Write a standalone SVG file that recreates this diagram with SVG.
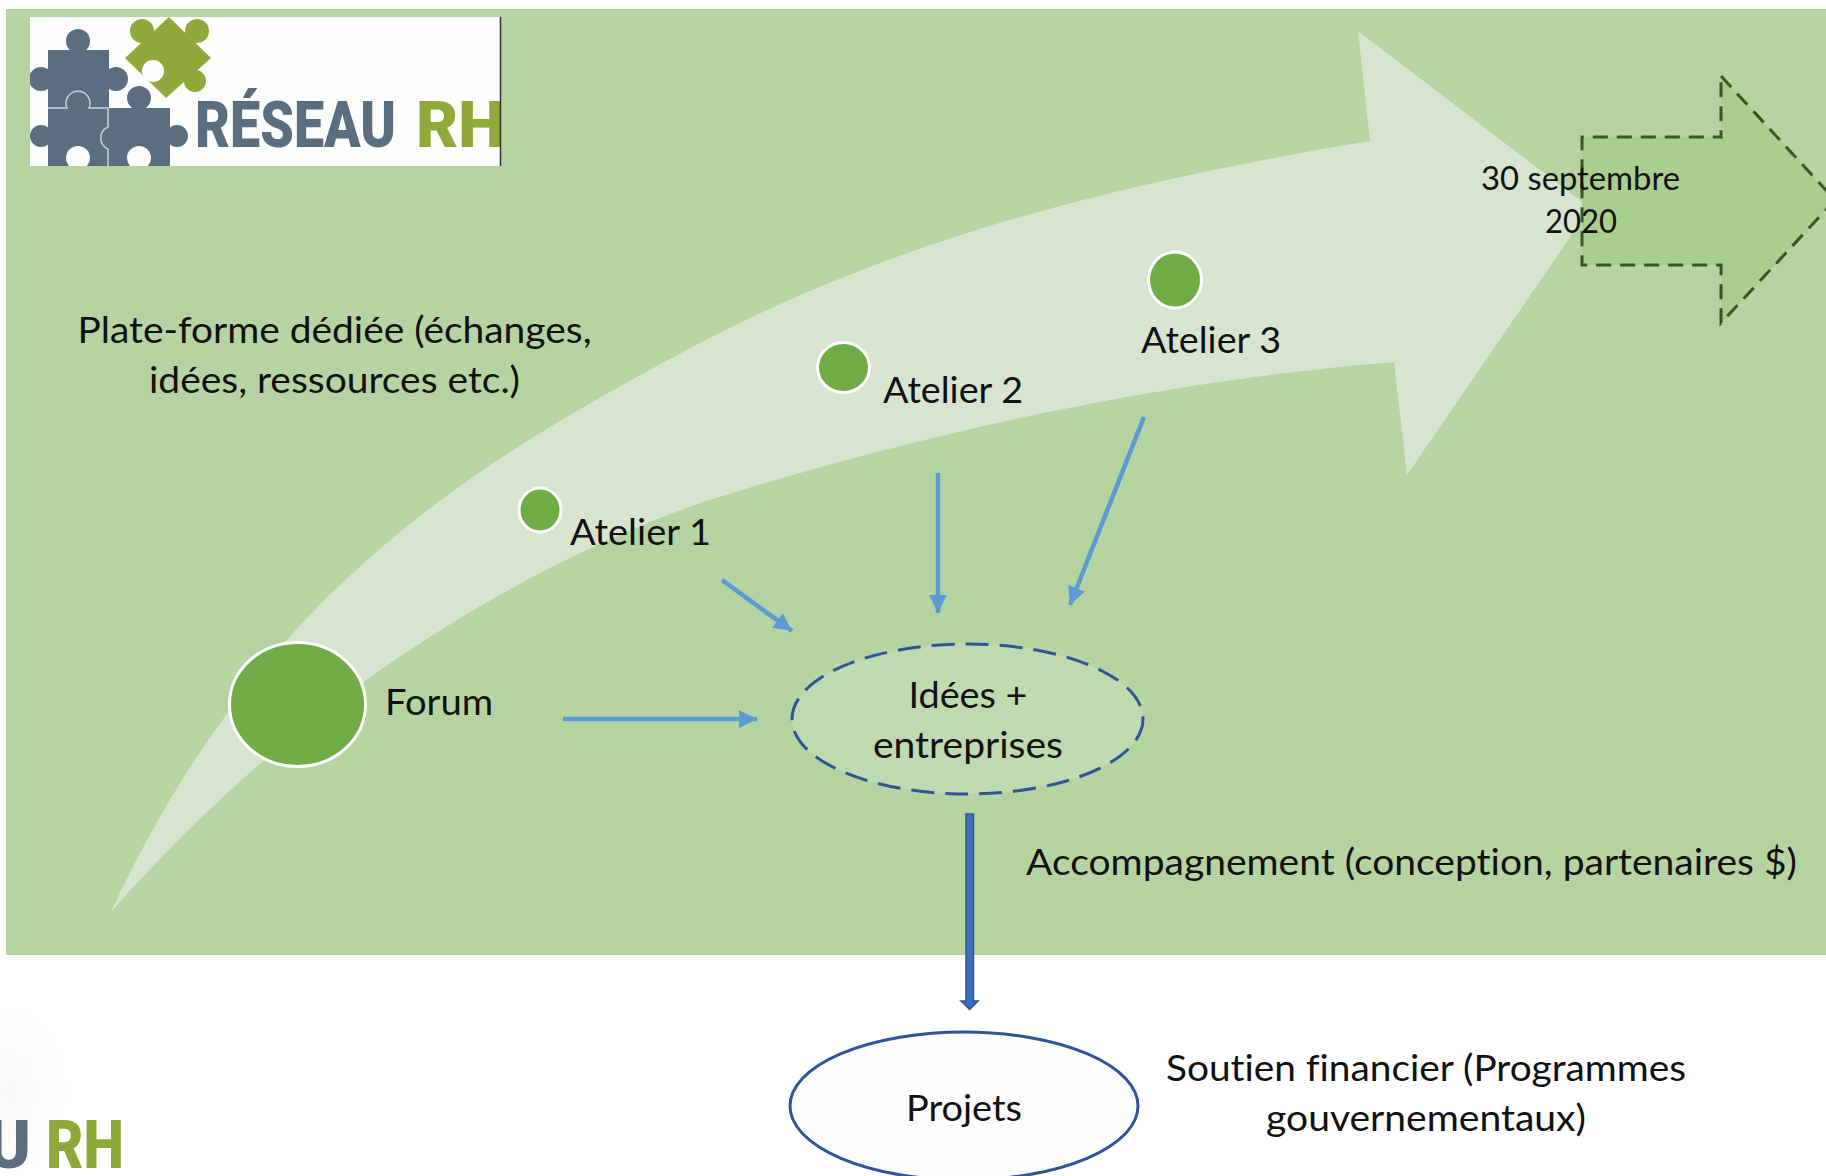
<svg xmlns="http://www.w3.org/2000/svg" width="1826" height="1176" viewBox="0 0 1826 1176">
<style>
text{font-family:"Lato","Carlito","Open Sans",sans-serif;fill:#111;font-size:37.5px;font-variant-ligatures:none}
.mid{text-anchor:middle}
.date{font-size:33px}
.logo{font-family:"Roboto","Liberation Sans",sans-serif;font-weight:900;font-size:64px}
.slate{fill:#5B6E7F}
.olive{fill:#93A83B}
.dot{fill:#70AD47;stroke:#fff;stroke-width:3}
.flow{fill:none;stroke:#5B9BD5;stroke-width:4.5;marker-end:url(#ah)}
</style>
<defs>
<marker id="ah" markerUnits="userSpaceOnUse" markerWidth="20" markerHeight="18" refX="18" refY="9" orient="auto"><path d="M0,0L18,9L0,18Z" fill="#5B9BD5"/></marker>
<clipPath id="logoclip"><rect x="30" y="17" width="471" height="149"/></clipPath>
<radialGradient id="smudge"><stop offset="0" stop-color="#FAF8F6"/><stop offset="1" stop-color="#FFFFFF" stop-opacity="0"/></radialGradient>
</defs>
<rect width="1826" height="1176" fill="#FFFFFF"/>
<ellipse cx="10" cy="1090" rx="90" ry="130" fill="url(#smudge)"/>
<rect x="6" y="9" width="1820" height="946" fill="#B6D4A2"/>

<g id="big-arrow">
<path fill="#D7E4CF" d="M111,912 C260,590 475,462 700,343 C920,228 1150,178 1370,141 L1358,31 L1590,208 L1407,475 L1394,362 C1170,380 930,430 700,503 C500,575 290,708 111,912Z"/>
</g>

<g id="logo">
<rect x="30" y="17" width="471" height="149" fill="#FDFDFE"/>
<g clip-path="url(#logoclip)">
<g class="slate">
<rect x="48" y="50" width="61" height="58"/>
<circle cx="78" cy="41" r="12"/><rect x="72" y="46" width="12" height="8"/>
<circle cx="41" cy="79" r="12"/><circle cx="116" cy="79" r="12"/>
<rect x="48" y="108" width="61" height="58"/>
<circle cx="41" cy="136" r="11"/>
<rect x="109" y="108" width="61" height="58"/>
<circle cx="139" cy="98" r="12"/><circle cx="177" cy="136" r="11"/>
<circle cx="78" cy="100" r="12"/><circle cx="100" cy="137" r="12"/>
</g>
<path d="M48,108H67A12,12 0 1 1 89,108H108V127A12,12 0 0 0 108,149V166" fill="none" stroke="#C8D0D6" stroke-width="1.5"/>
<circle cx="78" cy="158" r="12" fill="#FDFDFE"/><circle cx="139" cy="158" r="12" fill="#FDFDFE"/>
<g class="olive">
<path d="M169,17L211,58L166,98L125,58Z"/>
<circle cx="142" cy="31" r="12"/><circle cx="197" cy="31" r="12"/><circle cx="195" cy="81" r="11"/>
</g>
<circle cx="153" cy="71" r="11" fill="#FDFDFE"/>
<text class="logo" x="195" y="147" textLength="201" lengthAdjust="spacingAndGlyphs" style="fill:#5B6E7F">RÉSEAU</text>
<text class="logo" x="416" y="147" textLength="88" lengthAdjust="spacingAndGlyphs" style="fill:#93A83B">RH</text>
</g>
<line x1="500.500" y1="17" x2="500.500" y2="166" stroke="#333" stroke-width="1.500"/>
</g>

<g id="logo-bottom">
<text class="logo" x="31" y="1168" text-anchor="end" style="font-size:67px;fill:#5B6E7F">U</text>
<text class="logo" x="46" y="1168" textLength="78" lengthAdjust="spacingAndGlyphs" style="font-size:67px;fill:#8FA83A">RH</text>
</g>

<g id="date-arrow">
<path d="M1721,76L1835,200L1721,323V265H1582V137H1721Z" fill="#A9CE8E" stroke="#385723" stroke-width="3" stroke-dasharray="15 9"/>
<text class="date mid" x="1580.500" y="190" textLength="199" lengthAdjust="spacingAndGlyphs">30 septembre</text>
<text class="date mid" x="1581" y="233" textLength="72" lengthAdjust="spacingAndGlyphs">2020</text>
</g>

<g id="plateforme">
<text class="mid" x="334.500" y="343" textLength="514" lengthAdjust="spacingAndGlyphs">Plate-forme dédiée (échanges,</text>
<text class="mid" x="334.500" y="393" textLength="371" lengthAdjust="spacingAndGlyphs">idées, ressources etc.)</text>
</g>

<g id="forum">
<ellipse class="dot" cx="297.500" cy="704.500" rx="68" ry="62"/>
<text x="385" y="715" textLength="108" lengthAdjust="spacingAndGlyphs">Forum</text>
</g>
<g id="atelier-1">
<ellipse class="dot" cx="540" cy="510" rx="21" ry="22"/>
<text x="570" y="545" textLength="141" lengthAdjust="spacingAndGlyphs">Atelier 1</text>
</g>
<g id="atelier-2">
<ellipse class="dot" cx="843.500" cy="367.500" rx="26" ry="25"/>
<text x="883" y="403" textLength="140" lengthAdjust="spacingAndGlyphs">Atelier 2</text>
</g>
<g id="atelier-3">
<ellipse class="dot" cx="1175" cy="280" rx="26.500" ry="28"/>
<text x="1141" y="353" textLength="140" lengthAdjust="spacingAndGlyphs">Atelier 3</text>
</g>

<g id="idees">
<ellipse cx="967.500" cy="719" rx="175.500" ry="75" fill="#C0DAB0" stroke="#2F5597" stroke-width="3" stroke-dasharray="23 11"/>
<text class="mid" x="968" y="708" textLength="119" lengthAdjust="spacingAndGlyphs">Idées +</text>
<text class="mid" x="968" y="758" textLength="190" lengthAdjust="spacingAndGlyphs">entreprises</text>
</g>

<g id="accompagnement">
<text x="1026" y="875" textLength="771" lengthAdjust="spacingAndGlyphs">Accompagnement (conception, partenaires $)</text>
</g>

<g id="projets">
<ellipse cx="964" cy="1106" rx="174" ry="74" fill="#FDFDFD" stroke="#2F5597" stroke-width="3"/>
<text class="mid" x="964" y="1121" textLength="116" lengthAdjust="spacingAndGlyphs">Projets</text>
</g>

<g id="soutien">
<text class="mid" x="1426" y="1081" textLength="520" lengthAdjust="spacingAndGlyphs">Soutien financier (Programmes</text>
<text class="mid" x="1426" y="1131" textLength="320" lengthAdjust="spacingAndGlyphs">gouvernementaux)</text>
</g>

<g id="connectors">
<line class="flow" x1="563" y1="719" x2="757" y2="719"/>
<line class="flow" x1="722" y1="580" x2="792" y2="631"/>
<line class="flow" x1="938" y1="473" x2="938" y2="613"/>
<line class="flow" x1="1144" y1="417" x2="1070" y2="605"/>
<path d="M966,814H973.500V1001H978L969.700,1009.500L961,1001H966Z" fill="#3F6CBB" stroke="#2F5597" stroke-width="1.500"/>
</g>
</svg>
